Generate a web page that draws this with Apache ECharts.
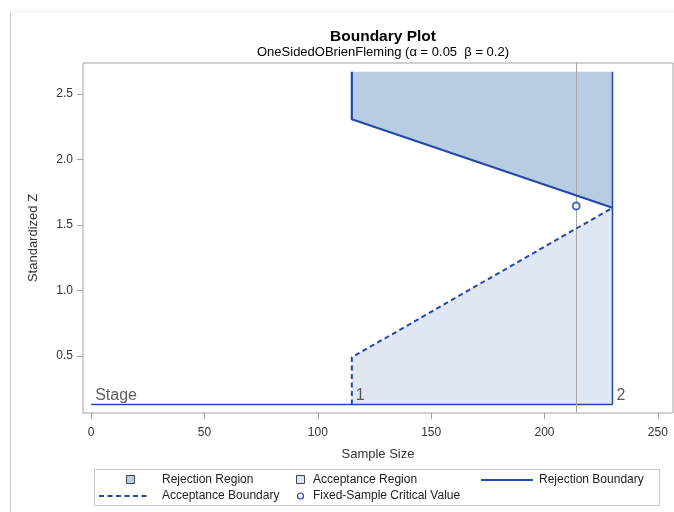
<!DOCTYPE html>
<html>
<head>
<meta charset="utf-8">
<script src="https://cdn.jsdelivr.net/npm/echarts@6/dist/echarts.min.js"></script>
<style>html,body{margin:0;padding:0;background:#fff}#c{width:674px;height:512px}</style>
</head>
<body>
<div id="c"></div>
<script>
// ---- data ----
const stageLabels = ['Stage', '1', '2'];
const stageSampleSizes = [115, 230];
const rejectionBoundary = [2.308, 1.632];
const acceptanceBoundary = [0.49, 1.632];
const fixedSampleSize = 214;
const fixedCriticalValue = 1.645;
const regionTopZ = 2.67;
const stageLineZ = 0.13;
const xTickValues = [0, 50, 100, 150, 200, 250];
const yTickValues = [0.5, 1.0, 1.5, 2.0, 2.5];
const legendNames = ['Rejection Region', 'Acceptance Region', 'Rejection Boundary', 'Acceptance Boundary', 'Fixed-Sample Critical Value'];

const FONT = '"Liberation Sans", Arial, sans-serif';
const LINE = '#2249a9';
const REJ_FILL = '#b8cce4';
const ACC_FILL = '#dee7f2';

const chart = echarts.init(document.getElementById('c'), null, {renderer: 'canvas'});

function polygonSeries(name, pts, fill) {
  return {
    name: name, type: 'custom', z: 1, silent: true,
    data: [0],
    renderItem: function (params, api) {
      return {type: 'polygon', shape: {points: pts.map(p => api.coord(p))}, style: {fill: fill}};
    }
  };
}

const rejPoly = [[stageSampleSizes[0], regionTopZ], [stageSampleSizes[0], rejectionBoundary[0]],
                 [stageSampleSizes[1], rejectionBoundary[1]], [stageSampleSizes[1], regionTopZ]];
const accPoly = [[stageSampleSizes[0], stageLineZ], [stageSampleSizes[0], acceptanceBoundary[0]],
                 [stageSampleSizes[1], acceptanceBoundary[1]], [stageSampleSizes[1], stageLineZ]];

const stagePoints = [[0, stageLineZ], [stageSampleSizes[0], stageLineZ], [stageSampleSizes[1], stageLineZ]];

// legend drawn as graphic
const LX = 94, LY = 469, LW = 565, LH = 36;
const r1 = 480, r2 = 496;
const legendGraphic = [
  {type: 'rect', shape: {x: LX + 0.5, y: LY + 0.5, width: LW, height: LH}, style: {fill: '#fff', stroke: '#c8c8c8', lineWidth: 1}},
  {type: 'rect', shape: {x: 126.5, y: r1 - 4.5, width: 8, height: 8}, style: {fill: REJ_FILL, stroke: '#444', lineWidth: 1}},
  {type: 'text', x: 162, y: r1, style: {text: legendNames[0], font: '12px ' + FONT, fill: '#222', textVerticalAlign: 'middle'}},
  {type: 'rect', shape: {x: 296.5, y: r1 - 4.5, width: 8, height: 8}, style: {fill: ACC_FILL, stroke: '#444', lineWidth: 1}},
  {type: 'text', x: 313, y: r1, style: {text: legendNames[1], font: '12px ' + FONT, fill: '#222', textVerticalAlign: 'middle'}},
  {type: 'line', shape: {x1: 481, y1: r1, x2: 533, y2: r1}, style: {stroke: LINE, lineWidth: 2}},
  {type: 'text', x: 539, y: r1, style: {text: legendNames[2], font: '12px ' + FONT, fill: '#222', textVerticalAlign: 'middle'}},
  {type: 'line', shape: {x1: 99, y1: r2, x2: 148, y2: r2}, style: {stroke: LINE, lineWidth: 2, lineDash: [5, 3.5]}},
  {type: 'text', x: 162, y: r2, style: {text: legendNames[3], font: '12px ' + FONT, fill: '#222', textVerticalAlign: 'middle'}},
  {type: 'circle', shape: {cx: 300.5, cy: r2, r: 3}, style: {fill: '#fff', stroke: LINE, lineWidth: 1.2}},
  {type: 'text', x: 313, y: r2, style: {text: legendNames[4], font: '12px ' + FONT, fill: '#222', textVerticalAlign: 'middle'}},
  // outer page frame
  {type: 'line', shape: {x1: 10.5, y1: 11, x2: 10.5, y2: 512}, style: {stroke: '#cfcfcf', lineWidth: 1}},
  {type: 'line', shape: {x1: 10, y1: 11.5, x2: 674, y2: 11.5}, style: {stroke: '#f0f0f0', lineWidth: 1}}
];

const option = {
  backgroundColor: '#fff',
  animation: false,
  title: [
    {text: 'Boundary Plot', left: 378, top: 24, textAlign: 'center',
     textStyle: {fontFamily: FONT, fontSize: 15.5, fontWeight: 'bold', color: '#000'}},
    {text: 'OneSidedOBrienFleming (α = 0.05  β = 0.2)', left: 378, top: 41, textAlign: 'center',
     textStyle: {fontFamily: FONT, fontSize: 13, fontWeight: 'normal', color: '#000'}}
  ],
  grid: {left: 83, right: 1, top: 63, bottom: 99, show: true, borderColor: '#a0a0a0', borderWidth: 1, backgroundColor: 'transparent'},
  xAxis: {
    type: 'value', min: -3.6, max: 256.7,
    name: 'Sample Size', nameLocation: 'middle', nameGap: 35,
    nameTextStyle: {fontFamily: FONT, fontSize: 13, color: '#333'},
    axisLine: {show: false, onZero: false},
    splitLine: {show: false},
    axisTick: {show: true, inside: false, length: 6, customValues: xTickValues, lineStyle: {color: '#a0a0a0'}},
    axisLabel: {customValues: xTickValues, margin: 14, fontFamily: FONT, fontSize: 12, color: '#333'}
  },
  yAxis: {
    type: 'value', min: 0.065, max: 2.737,
    name: 'Standardized Z', nameLocation: 'middle', nameGap: 43, nameRotate: 90,
    nameTextStyle: {fontFamily: FONT, fontSize: 13, color: '#333'},
    axisLine: {show: false, onZero: false},
    splitLine: {show: false},
    axisTick: {show: true, inside: false, length: 6, customValues: yTickValues, lineStyle: {color: '#a0a0a0'}},
    axisLabel: {customValues: yTickValues, margin: 10, fontFamily: FONT, fontSize: 12, color: '#333',
                formatter: v => v.toFixed(1)}
  },
  graphic: legendGraphic,
  series: [
    polygonSeries('Rejection Region', rejPoly, REJ_FILL),
    polygonSeries('Acceptance Region', accPoly, ACC_FILL),
    {
      name: 'Reference', type: 'line', z: 3, silent: true, data: [],
      markLine: {silent: true, symbol: 'none', label: {show: false},
                 lineStyle: {color: '#a6a6a6', width: 1, type: 'solid'},
                 data: [{xAxis: fixedSampleSize}]}
    },
    {
      name: 'Stage Line', type: 'line', z: 4, silent: true, symbol: 'none',
      lineStyle: {color: LINE, width: 1.5},
      data: [[0, stageLineZ], [stageSampleSizes[1], stageLineZ]]
    },
    {
      name: 'Region Edge', type: 'line', z: 4, silent: true, symbol: 'none',
      lineStyle: {color: LINE, width: 1.5},
      data: [[stageSampleSizes[1], regionTopZ], [stageSampleSizes[1], stageLineZ]]
    },
    {
      name: 'Acceptance Boundary', type: 'line', z: 5, silent: true, symbol: 'none',
      lineStyle: {color: LINE, width: 2, type: [5, 3.5]},
      data: [[stageSampleSizes[0], stageLineZ], [stageSampleSizes[0], acceptanceBoundary[0]],
             [stageSampleSizes[1], acceptanceBoundary[1]]]
    },
    {
      name: 'Rejection Boundary', type: 'line', z: 5, silent: true, symbol: 'none',
      lineStyle: {color: LINE, width: 2.2},
      data: [[stageSampleSizes[0], regionTopZ], [stageSampleSizes[0], rejectionBoundary[0]],
             [stageSampleSizes[1], rejectionBoundary[1]]]
    },
    {
      name: 'Fixed-Sample Critical Value', type: 'scatter', z: 6, silent: true,
      symbol: 'emptyCircle', symbolSize: 7,
      itemStyle: {color: LINE, borderWidth: 1.2},
      data: [[fixedSampleSize, fixedCriticalValue]]
    },
    {
      name: 'Stage Labels', type: 'scatter', z: 6, silent: true, symbolSize: 0,
      data: stagePoints.map((p, i) => ({value: p, name: stageLabels[i]})),
      label: {show: true, position: [4, -1], align: 'left', verticalAlign: 'bottom',
              formatter: p => p.name, fontFamily: FONT, fontSize: 16, color: '#333'}
    }
  ]
};
chart.setOption(option);
</script>
</body>
</html>
